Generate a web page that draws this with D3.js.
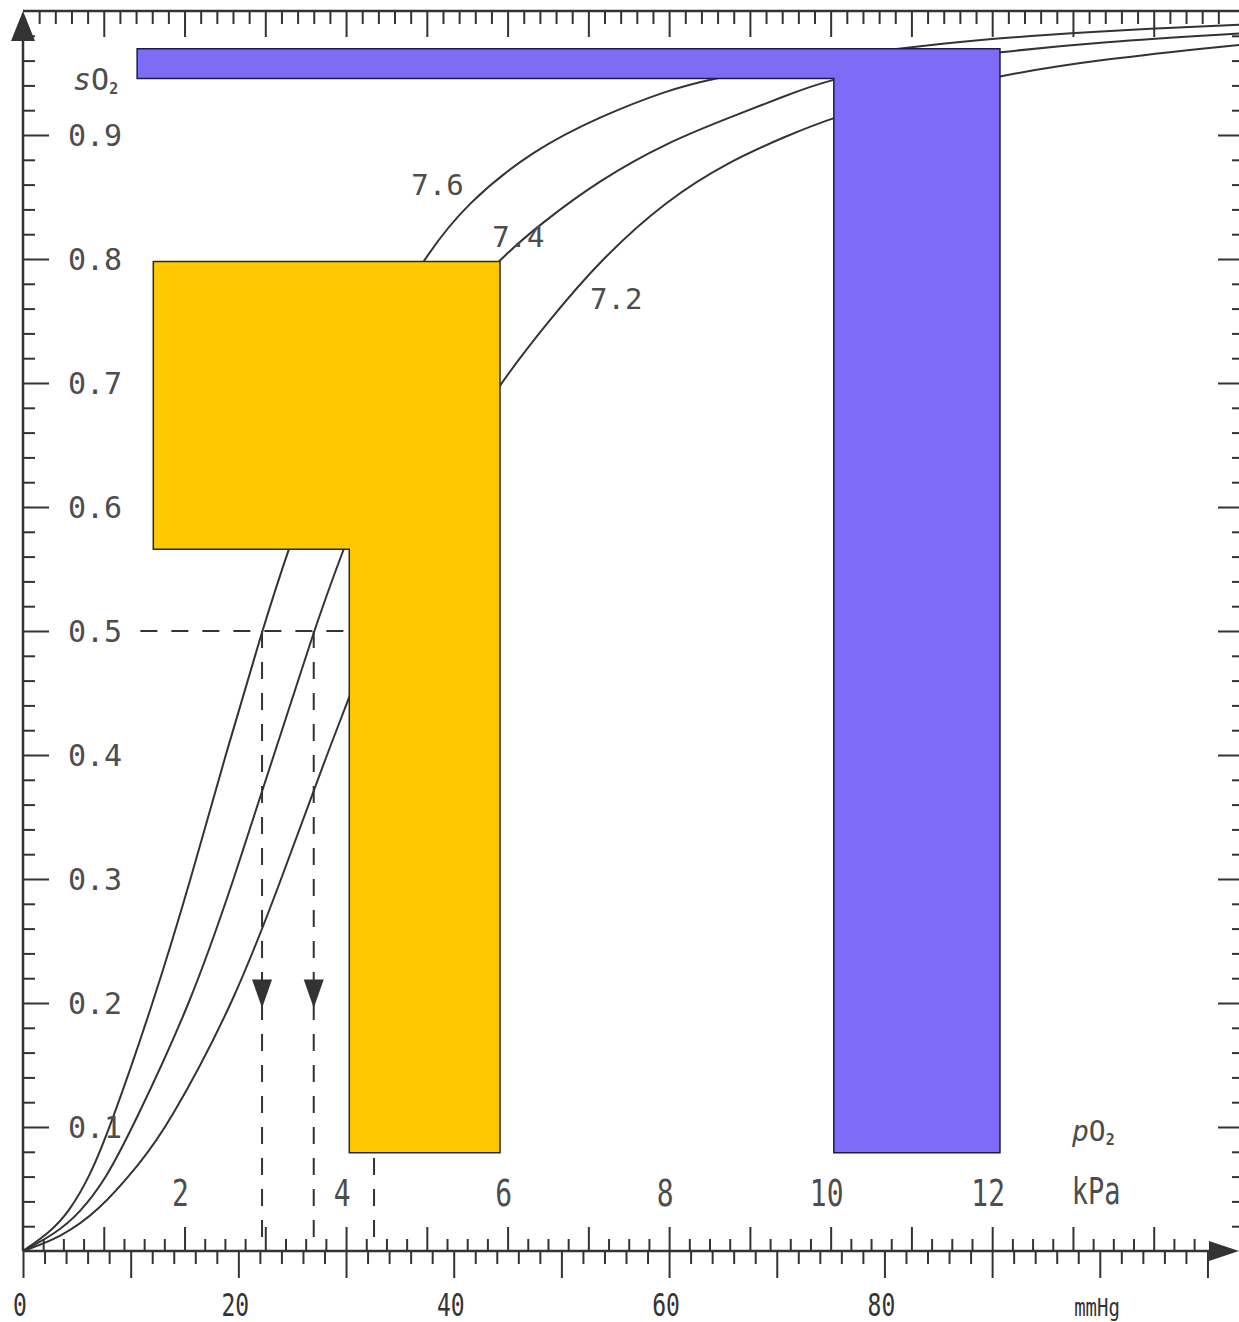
<!DOCTYPE html>
<html><head><meta charset="utf-8">
<script src="https://cdn.jsdelivr.net/npm/d3@7"></script>
<style>html,body{margin:0;padding:0;background:#fff;} svg{display:block;}</style>
</head><body><svg id="c" width="1239" height="1322"></svg>
<script>
// ---- data (x: pO2 in mmHg, y: sO2) ----
const curve76 = [[0,0],[2.5,0.015],[4.3,0.032],[6.2,0.06],[8.1,0.1],[12.1,0.2],[15.6,0.3],[18.8,0.4],[22.2,0.5],[24.6,0.565],[28,0.647],[32,0.721],[37.1,0.8],[41.2,0.845],[47.4,0.888],[53.6,0.915],[59.8,0.936],[63.8,0.945],[70,0.955],[77,0.965],[85.1,0.974],[95,0.981],[105,0.986],[113.3,0.989]];
const curve74 = [[0,0],[3.0,0.014],[5.2,0.03],[7.7,0.058],[10.2,0.1],[15.6,0.2],[19.6,0.3],[23.3,0.4],[27.0,0.5],[29.7,0.565],[32,0.615],[35,0.675],[38,0.725],[41,0.768],[44.3,0.8],[48,0.828],[53.6,0.864],[59.8,0.894],[65.9,0.915],[70.6,0.931],[74.9,0.945],[82,0.957],[90.7,0.967],[100,0.975],[113.3,0.982]];
const curve72 = [[0,0],[3.5,0.011],[7.0,0.032],[10.8,0.07],[13.4,0.1],[19.6,0.2],[24.0,0.3],[28.2,0.4],[30.2,0.444],[32.6,0.5],[36,0.575],[40,0.64],[44.3,0.70],[48.9,0.751],[53.6,0.799],[59.8,0.848],[65.9,0.880],[70.6,0.898],[75.2,0.9145],[83,0.933],[90.7,0.948],[100,0.961],[113.3,0.973]];
const curveNames = ["7.6","7.4","7.2"];
const p50 = [22.2, 27.0, 32.6];            // mmHg at sO2 = 0.5
const yTickLabels = ["0.1","0.2","0.3","0.4","0.5","0.6","0.7","0.8","0.9"];
const kPaLabels = ["2","4","6","8","10","12"];
const mmHgLabels = ["0","20","40","60","80"];
const yellowShape = [[12.1,0.798],[44.3,0.798],[44.3,0.0793],[30.3,0.0793],[30.3,0.566],[12.1,0.566]];
const purpleShape = [[10.6,0.9695],[90.73,0.9695],[90.73,0.0793],[75.3,0.0793],[75.3,0.9455],[10.6,0.9455]];

// ---- scales ----
const KPA = 7.50062;
const x = d3.scaleLinear().domain([0, 113.3]).range([23, 1243]);
const y = d3.scaleLinear().domain([0, 1]).range([1251, 11]);
const svg = d3.select("#c");
const INK = "#333";
const TXT = "#4d4d4d";
const MONO = "'DejaVu Sans Mono', monospace";

function ticks(gen, vals, size, tr) {
  const g = svg.append("g").attr("transform", tr)
    .call(gen.tickValues(vals).tickSize(size).tickFormat(""));
  g.select(".domain").remove();
  g.selectAll("line").attr("stroke", INK).attr("stroke-width", 2);
}
const near = (v, step) => Math.abs(v / step - Math.round(v / step)) < 1e-6;

// y axis ticks (left, pointing right)
const yAll = d3.range(1, 50).map(i => i * 0.02);
ticks(d3.axisRight(y), yAll.filter(v => !near(v, 0.1)), 12, "translate(23,0)");
ticks(d3.axisRight(y), d3.range(1, 10).map(i => i * 0.1), 26, "translate(23,0)");
// right ticks (pointing left)
ticks(d3.axisLeft(y), yAll.filter(v => !near(v, 0.1)), 7, "translate(1239,0)");
ticks(d3.axisLeft(y), d3.range(1, 10).map(i => i * 0.1), 21, "translate(1239,0)");
// bottom mmHg ticks (below)
const mmAll = d3.range(1, 56).map(i => i * 2);
ticks(d3.axisBottom(x), mmAll.filter(v => v % 10 !== 0), 13, "translate(0,1251)");
ticks(d3.axisBottom(x), d3.range(0, 111, 10), 27, "translate(0,1251)");
// bottom kPa ticks (above)
const kq = d3.range(1, 60).map(i => i * 0.25).filter(v => v * KPA < 110);
ticks(d3.axisTop(x), kq.filter(v => !near(v, 1)).map(v => v * KPA), 12, "translate(0,1251)");
ticks(d3.axisTop(x), kq.filter(v => near(v, 1)).map(v => v * KPA), 24, "translate(0,1251)");
// top kPa ticks (pointing down)
const kt = d3.range(1, 76).map(i => i * 0.2).filter(v => v * KPA < 112.5);
ticks(d3.axisBottom(x), kt.filter(v => !near(v, 1)).map(v => v * KPA), 13, "translate(0,11)");
ticks(d3.axisBottom(x), kt.filter(v => near(v, 1)).map(v => v * KPA), 26, "translate(0,11)");

// axis lines and arrows
svg.append("line").attr("x1", x(0)).attr("x2", x(0)).attr("y1", y(0)).attr("y2", y(1) + 20)
  .attr("stroke", INK).attr("stroke-width", 2.5);
svg.append("line").attr("x1", x(0)).attr("x2", 1239).attr("y1", y(1)).attr("y2", y(1))
  .attr("stroke", INK).attr("stroke-width", 2.5);
svg.append("line").attr("x1", x(0)).attr("x2", 1215).attr("y1", y(0)).attr("y2", y(0))
  .attr("stroke", INK).attr("stroke-width", 2.5);
svg.append("path").attr("d", `M${x(0)},${y(1)} L${x(0) - 12},${y(1) + 30} L${x(0) + 12},${y(1) + 30} Z`).attr("fill", INK);
svg.append("path").attr("d", `M1239,${y(0)} L1209,${y(0) - 10} L1209,${y(0) + 10} Z`).attr("fill", INK);

// curves
const line = d3.line().x(d => x(d[0])).y(d => y(d[1])).curve(d3.curveBasis);
[curve76, curve74, curve72].forEach(c => {
  svg.append("path").attr("d", line(c)).attr("fill", "none").attr("stroke", INK).attr("stroke-width", 2);
});

// dashed guides
const dash = "17,14";
svg.append("line").attr("x1", x(10.9)).attr("x2", x(p50[2])).attr("y1", y(0.5)).attr("y2", y(0.5))
  .attr("stroke", INK).attr("stroke-width", 2).attr("stroke-dasharray", dash);
p50.forEach(v => {
  svg.append("line").attr("x1", x(v)).attr("x2", x(v)).attr("y1", y(0.5)).attr("y2", y(0))
    .attr("stroke", INK).attr("stroke-width", 2).attr("stroke-dasharray", dash);
  svg.append("path").attr("d", `M${x(v) - 10},${y(0.219)} L${x(v) + 10},${y(0.219)} L${x(v)},${y(0.196)} Z`)
    .attr("fill", INK);
});

// curve labels
const labelPos = [[38.5, 0.86], [46.0, 0.818], [55.1, 0.768]];
curveNames.forEach((n, i) => {
  svg.append("text").attr("x", x(labelPos[i][0])).attr("y", y(labelPos[i][1]))
    .attr("text-anchor", "middle").attr("dominant-baseline", "central")
    .attr("font-family", MONO).attr("font-size", 29).attr("fill", TXT).text(n);
});

// y tick labels
yTickLabels.forEach(t => {
  svg.append("text").attr("x", 68).attr("y", y(+t)).attr("dy", "0.36em")
    .attr("font-family", MONO).attr("font-size", 30).attr("fill", TXT).text(t);
});

// kPa labels (inside, above axis)
function tallText(px, py, str, size, fill, anchor) {
  svg.append("text").attr("transform", `translate(${px},${py}) scale(1,1.35)`)
    .attr("text-anchor", anchor || "middle").attr("font-family", MONO)
    .attr("font-size", size).attr("fill", fill).text(str);
}
kPaLabels.forEach(k => tallText(x(+k * KPA) - 4, 1206, k, 28, TXT));
tallText(1096, 1204, "kPa", 27, TXT);
// mmHg labels (below)
mmHgLabels.forEach(m => tallText(x(+m) - 3, 1316, m, 23, "#333"));
tallText(1097, 1316, "mmHg", 19, "#333");

// axis titles
const sT = svg.append("text").attr("x", 73).attr("y", 90).attr("font-family", MONO)
  .attr("font-size", 30).attr("fill", TXT);
sT.append("tspan").attr("font-style", "italic").text("s");
sT.append("tspan").text("O");
sT.append("tspan").attr("font-size", 15).attr("font-weight", "bold").attr("dy", 4).text("2");
const pT = svg.append("text").attr("x", 1072).attr("y", 1141).attr("font-family", MONO)
  .attr("font-size", 28).attr("fill", TXT);
pT.append("tspan").attr("font-style", "italic").text("p");
pT.append("tspan").text("O");
pT.append("tspan").attr("font-size", 15).attr("font-weight", "bold").attr("dy", 4).text("2");

// overlay shapes
const poly = d3.line().x(d => x(d[0])).y(d => y(d[1]));
svg.append("path").attr("d", poly(yellowShape) + "Z").attr("fill", "#ffc800")
  .attr("stroke", "#2a2a2a").attr("stroke-width", 1.5);
svg.append("path").attr("d", poly(purpleShape) + "Z").attr("fill", "#7f6cf6")
  .attr("stroke", "#1d1a4a").attr("stroke-width", 1.5);
</script>
</body></html>
